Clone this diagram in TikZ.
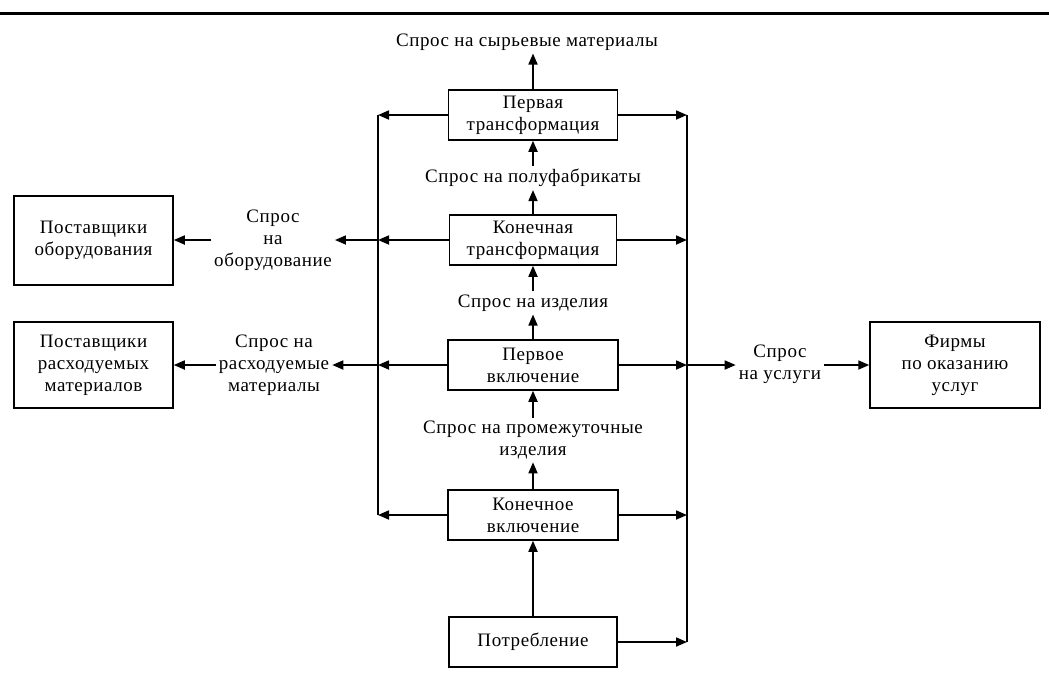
\documentclass[tikz,border=0pt]{standalone}
\usepackage{fontspec}
\setmainfont{Liberation Serif}[LetterSpace=3]
\usetikzlibrary{arrows.meta}
\begin{document}
\begin{tikzpicture}[x=1pt,y=-1pt,
  every node/.style={font=\fontsize{19}{22}\selectfont, align=center},
  box/.style={draw, line width=1.5pt, inner sep=0pt},
  lbl/.style={inner sep=3pt},
  conn/.style={line width=1.7pt},
  arr/.style={conn, -{Triangle[length=11pt,width=9pt]}}]
\useasboundingbox (0,0) rectangle (1049,673);
\draw[line width=3pt] (0,13) -- (1049,13);
% central boxes
\node[box, minimum width=169pt, minimum height=50pt] (b1) at (533,115) {Первая\\трансформация};
\node[box, minimum width=167pt, minimum height=50pt] (b2) at (533,240) {Конечная\\трансформация};
\node[box, minimum width=170pt, minimum height=50pt] (b3) at (533,365) {Первое\\включение};
\node[box, minimum width=170pt, minimum height=50pt] (b4) at (533,515) {Конечное\\включение};
\node[box, minimum width=168pt, minimum height=50pt] (b5) at (533,642) {Потребление};
% side boxes
\node[box, minimum width=159pt, minimum height=89pt] (s1) at (93.5,240.5) {Поставщики\\оборудования};
\node[box, minimum width=159pt, minimum height=86pt] (s2) at (93.5,365) {Поставщики\\расходуемых\\материалов};
\node[box, minimum width=170pt, minimum height=86pt] (f) at (955,365) {Фирмы\\по оказанию\\услуг};
% labels
\node[lbl] (raw) at (527,42) {Спрос на сырьевые материалы};
\node[lbl] (polu) at (533,178) {Спрос на полуфабрикаты};
\node[lbl] (izd) at (533,303) {Спрос на изделия};
\node[lbl] (prom) at (533,440) {Спрос на промежуточные\\изделия};
\node[lbl] (eq) at (273,240) {Спрос\\на\\оборудование};
\node[lbl] (cons) at (274,365) {Спрос на\\расходуемые\\материалы};
\node[lbl] (serv) at (780,364) {Спрос\\на услуги};
% junction coordinates
\coordinate (L1) at (378,115);
\coordinate (L2) at (378,240);
\coordinate (L3) at (378,365);
\coordinate (L4) at (378,515);
\coordinate (R1) at (687,115);
\coordinate (R2) at (687,240);
\coordinate (R3) at (687,365);
\coordinate (R4) at (687,515);
\coordinate (R5) at (687,642);
% bus lines
\draw[conn] (L1) -- (L4);
\draw[conn] (R1) -- (R5);
% vertical flow
\draw[arr] (b1.north) -- (b1.north |- raw.south);
\draw[arr] (polu.north) -- (b1.south);
\draw[arr] (b2.north) -- (polu.south);
\draw[arr] (izd.north) -- (b2.south);
\draw[arr] (b3.north) -- (izd.south);
\draw[arr] (prom.north) -- (b3.south);
\draw[arr] (b4.north) -- (prom.south);
\draw[arr] (b5.north) -- (b4.south);
% horizontal
\draw[arr] (b1.west) -- (L1);
\draw[arr] (b1.east) -- (R1);
\draw[arr] (b2.west) -- (L2);
\draw[arr] (b2.east) -- (R2);
\draw[arr] (b3.west) -- (L3);
\draw[arr] (b3.east) -- (R3);
\draw[arr] (b4.west) -- (L4);
\draw[arr] (b4.east) -- (R4);
\draw[arr] (b5.east) -- (R5);
\draw[arr] (L2) -- (eq.east |- L2);
\draw[arr] (eq.west |- L2) -- (s1.east |- L2);
\draw[arr] (L3) -- (cons.east |- L3);
\draw[arr] (cons.west |- L3) -- (s2.east |- L3);
\draw[arr] (R3) -- (serv.west |- R3);
\draw[arr] (serv.east |- R3) -- (f.west |- R3);
\end{tikzpicture}
\end{document}
